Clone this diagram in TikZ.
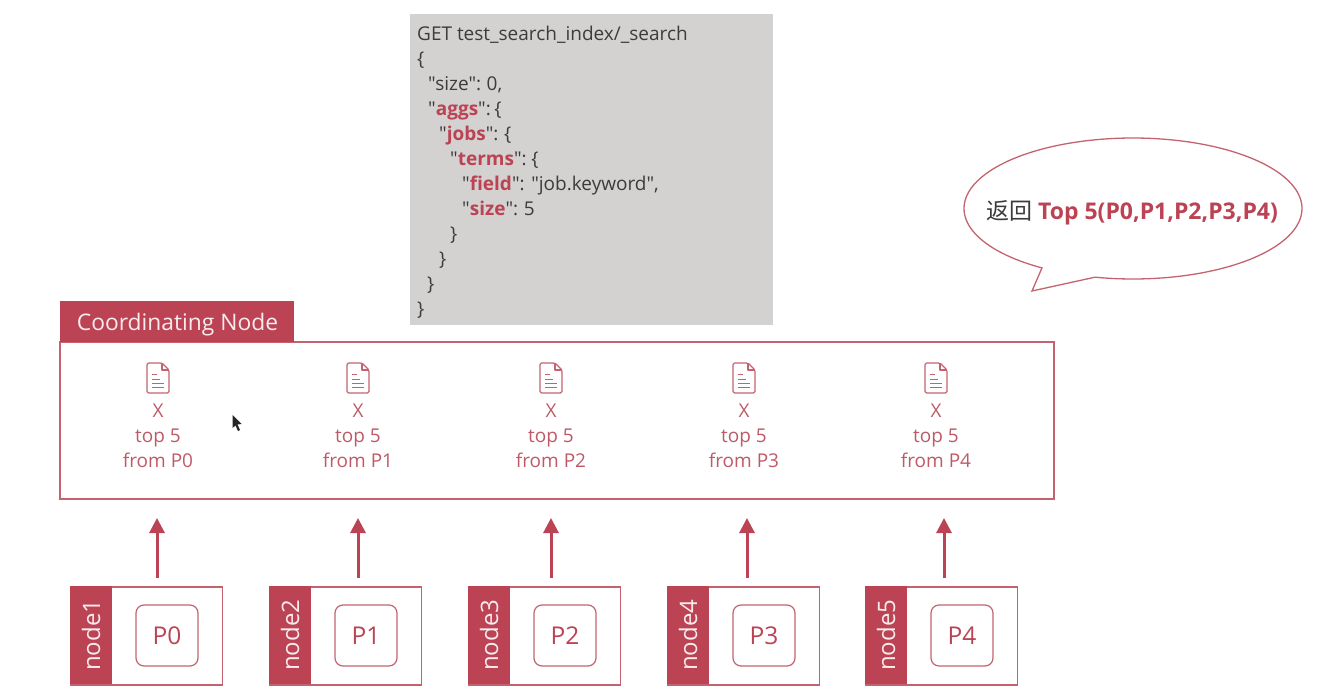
\documentclass[tikz,border=0pt]{standalone}
\usepackage{fontspec}
\setmainfont{Open Sans}[Ligatures=TeXOff]
\newfontfamily\cjkfont{Noto Sans CJK SC}
\usetikzlibrary{arrows.meta}
\definecolor{mainred}{HTML}{BC4354}
\definecolor{linered}{HTML}{C4636F}
\definecolor{textred}{HTML}{BE5A68}
\definecolor{codegray}{HTML}{D3D2D1}
\definecolor{codetext}{HTML}{3C3C3C}
\tikzset{
  codeline/.style={anchor=base west,inner sep=0pt,text=codetext,font=\fontsize{19}{22}\selectfont},
  infotext/.style={inner sep=0pt,text=textred,font=\fontsize{19}{22}\selectfont,anchor=base},
  nodebox/.style={draw=linered,line width=1.5pt,fill=white,minimum width=151.5pt,minimum height=98pt,inner sep=0pt},
  nodetab/.style={fill=mainred,minimum width=42pt,minimum height=98pt,inner sep=0pt,text=white!90!mainred,font=\fontsize{24}{26}\selectfont},
  partbox/.style={draw=linered,line width=1.2pt,rounded corners=8pt,minimum width=62pt,minimum height=61pt,inner sep=0pt,text=mainred,font=\fontsize{24.5}{28}\selectfont},
  uparrow/.style={draw=mainred,line width=3pt,-{Triangle[length=15pt,width=15pt]}},
  docicon/.style={draw=linered,line width=1.2pt,line join=round}
}
\newcommand{\kw}[1]{\textcolor{mainred}{\textbf{#1}}}
\begin{document}
\begin{tikzpicture}[x=1pt,y=-1pt]
\useasboundingbox (0,0) rectangle (1318,698);
% code box
\node[fill=codegray,minimum width=363pt,minimum height=311pt,inner sep=0pt] (code) at (591.5,169.5) {};
\node[codeline] (c1) at (417,40.5) {GET test\_search\_index/\_search};
\node[codeline] (c2) at (417,65.5) {\{};
\node[codeline] (c3) at (428,90.5) {"size":\hspace{-1pt} 0,};
\node[codeline] (c4) at (428,115.5) {"\kw{aggs}":\hspace{-3pt} \{};
\node[codeline] (c5) at (439,140.5) {"\kw{jobs}":\hspace{-1pt} \{};
\node[codeline] (c6) at (450,165.5) {"\kw{terms}":\hspace{-2pt} \{};
\node[codeline] (c7) at (462,190.5) {"\kw{field}": "job.keyword",};
\node[codeline] (c8) at (462,215.5) {"\kw{size}":\hspace{-1pt} 5};
\node[codeline] (c9) at (450,240.5) {\}};
\node[codeline] (c10) at (439,265.5) {\}};
\node[codeline] (c11) at (427,290.5) {\}};
\node[codeline] (c12) at (417,315.5) {\}};
% bubble
\draw[draw=linered,line width=1.3pt,fill=white,line join=miter]
  plot[domain=122.6:463,samples=150] ({1133+169*cos(\x)},{208.5+70.5*sin(\x)}) -- (1032,291) -- cycle;
\node[inner sep=0pt,anchor=base,font=\fontsize{23}{26}\selectfont] (bubble) at (1132,219)
  {\textcolor{codetext}{\cjkfont 返回}\ \textcolor{mainred}{\textbf{Top 5(P0,P1,P2,P3,P4)}}};
% coordinating box
\node[draw=linered,line width=1.5pt,minimum width=994pt,minimum height=157pt,inner sep=0pt] (coord) at (557,420.5) {};
\node[fill=mainred,minimum width=234pt,minimum height=41pt,inner sep=0pt] (ctab) at (177,321.5) {};
\node[inner sep=0pt,anchor=base,text=white!90!mainred,font=\fontsize{22.8}{26}\selectfont] (ctabtext) at (177.5,330) {Coordinating Node};
% columns
\foreach \i/\cx in {0/158,1/358,2/551,3/744,4/936}{
  \begin{scope}[shift={(\cx,378)}]
    \draw[docicon,fill=white,rounded corners=1.5pt] (-11,-15) -- (4,-15) -- (11,-8) -- (11,15) -- (-11,15) -- cycle;
    \draw[docicon] (4,-15) -- (4,-8) -- (11,-8);
    \draw[docicon,line width=1pt] (-6,-4) -- (-1,-4) (-6,1) -- (2,1) (-6,5) -- (6,5) (-6,9) -- (6,9);
  \end{scope}
  \node[infotext] (x\i) at (\cx,417.5) {X};
  \node[infotext] (t\i) at (\cx,442.5) {top 5};
  \node[infotext] (f\i) at (\cx,467.5) {from P\i};
}
% cursor
\fill[black!85] (232.5,415) -- (232.5,428) -- (235.5,425.5) -- (238,431) -- (240,430) -- (237.5,424.5) -- (241.5,424) -- cycle;
% bottom nodes
\foreach \i/\n/\bx/\ax in {0/1/70/157,1/2/269/358,2/3/468/551,3/4/667/747,4/5/865/944}{
  \node[nodebox,anchor=north west] (n\n) at (\bx,586) {};
  \node[nodetab,anchor=north west] (tab\n) at (\bx,586) {\rotatebox{90}{node\n}};
  \node[partbox] (p\i) at (\bx+97,635.5) {P\i};
  \coordinate (s\i) at (\ax,578);
  \coordinate (e\i) at (\ax,518);
  \draw[uparrow] (s\i) -- (e\i);
}
\end{tikzpicture}
\end{document}
